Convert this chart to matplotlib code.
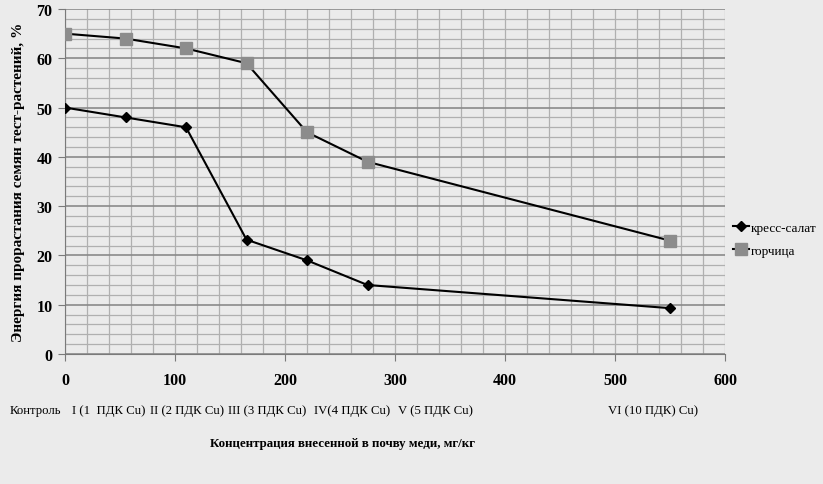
import matplotlib.pyplot as plt
from matplotlib.ticker import MultipleLocator

plt.rcParams['font.family'] = ['Liberation Serif', 'DejaVu Serif']

# concentration of copper, mg/kg
conc = [0, 55, 110, 165, 220, 275, 550]
cress = [50, 48, 46, 23.2, 19, 14, 9.3]
mustard = [65, 64, 62, 59, 45, 39, 23]
groups = ['Контроль', 'I (1  ПДК Cu)', 'II (2 ПДК Cu)', 'III (3 ПДК Cu)',
          'IV(4 ПДК Cu)', 'V (5 ПДК Cu)', 'VI (10 ПДК) Cu)']
group_x = [10, 72, 150, 228, 314, 398, 608]  # left edge of each label, px

bg = '#ebebeb'
fig = plt.figure(figsize=(8.23, 4.85), dpi=100, facecolor=bg)
ax = fig.add_axes([65 / 823, 1 - 355 / 485, 660 / 823, 345 / 485], facecolor=bg)

ax.plot(conc, cress, color='black', lw=1.5, marker='D', ms=5.5,
        mfc='black', mec='black', label='кресс-салат', zorder=3)
ax.plot(conc, mustard, color='black', lw=1.5, marker='s', ms=8,
        mfc='#8c8c8c', mec='#8c8c8c', label='горчица', zorder=3)

ax.set_xlim(0, 600)
ax.set_ylim(0, 70)
ax.xaxis.set_major_locator(MultipleLocator(100))
ax.xaxis.set_minor_locator(MultipleLocator(20))
ax.yaxis.set_major_locator(MultipleLocator(10))
ax.yaxis.set_minor_locator(MultipleLocator(2))
ax.grid(which='major', axis='y', color='#8a8a8a', lw=1.2)
ax.grid(which='minor', axis='y', color='#b0b0b0', lw=0.9)
ax.grid(which='both', axis='x', color='#b0b0b0', lw=0.9)
ax.set_axisbelow(True)
for s in ['top', 'right']:
    ax.spines[s].set_visible(False)
ax.spines['left'].set_color('#7a7a7a')
ax.spines['bottom'].set_color('#7a7a7a')
ax.tick_params(which='major', length=5, color='#7a7a7a', labelsize=11.5)
ax.tick_params(axis='x', pad=8)
ax.tick_params(axis='y', pad=4)
ax.tick_params(which='minor', length=0)
for lab in ax.get_xticklabels() + ax.get_yticklabels():
    lab.set_fontweight('bold')

ax.set_ylabel('Энергия прорастания семян тест-растений, %', fontsize=11,
              fontweight='bold', labelpad=8)

for name, px in zip(groups, group_x):
    fig.text(px / 823, 1 - 411 / 485, name, fontsize=9.2, va='center', ha='left')
fig.text(343 / 823, 1 - 444 / 485, 'Концентрация внесенной в почву меди, мг/кг',
         fontsize=9.3, fontweight='bold', va='center', ha='center')

ax.legend(loc='center left', bbox_to_anchor=(728 / 823, 1 - 240 / 485),
          bbox_transform=fig.transFigure, frameon=False, fontsize=9.5,
          handlelength=1.2, handletextpad=0.1, labelspacing=0.8,
          borderaxespad=0)

fig.savefig('out.png', dpi=100, facecolor=bg)
